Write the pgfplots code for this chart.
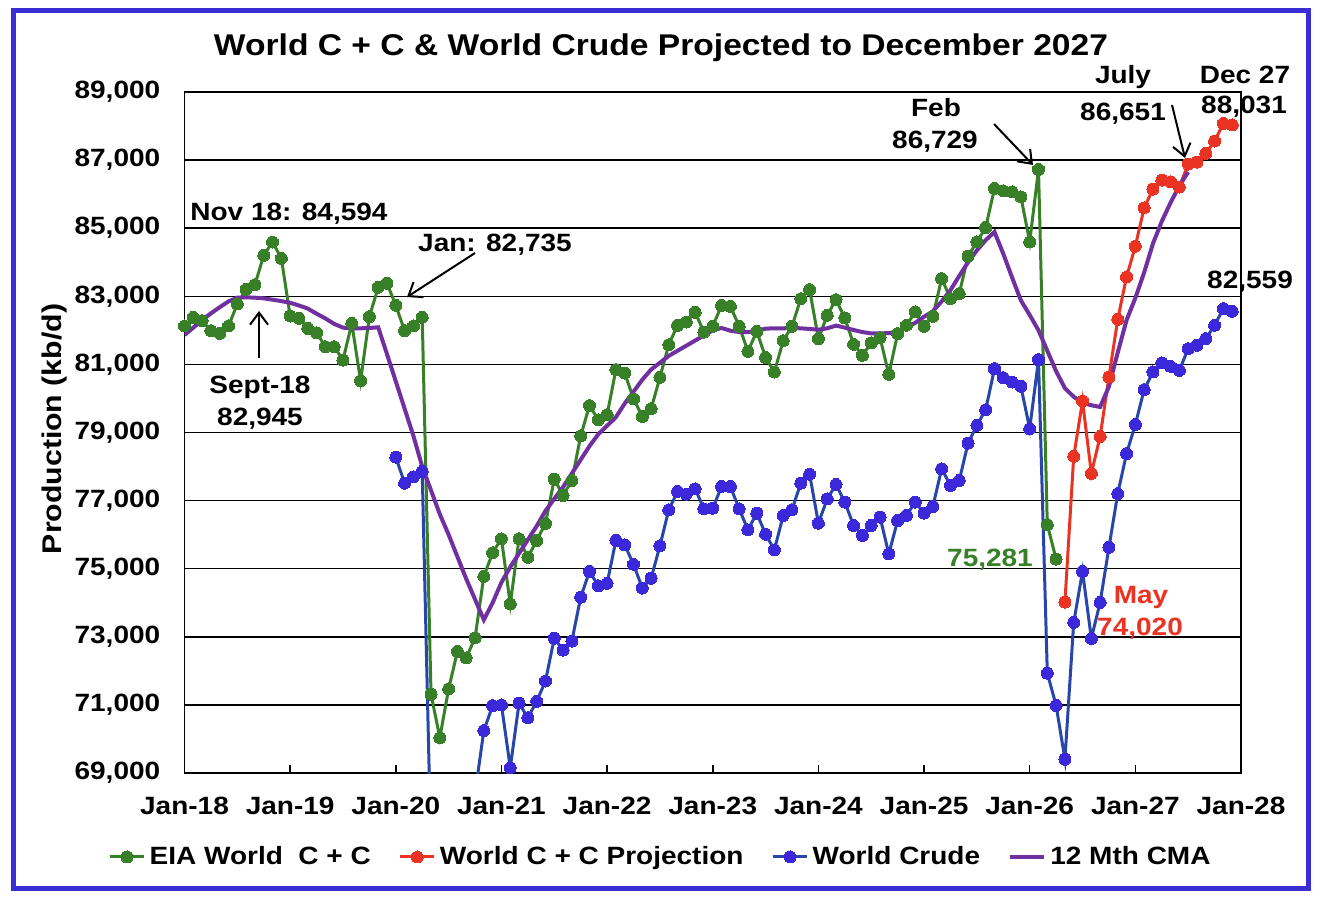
\documentclass[border=0pt]{standalone}
\usepackage{fontspec}
\setmainfont{Liberation Sans}[FakeStretch=1.12]
\usepackage{pgfplots}
\pgfplotsset{compat=1.18}
\usetikzlibrary{arrows.meta}
\definecolor{cgreen}{RGB}{56,128,40}
\definecolor{cred}{RGB}{234,51,35}
\definecolor{cblueline}{RGB}{40,70,170}
\definecolor{cbluemark}{RGB}{58,40,218}
\definecolor{cpurple}{RGB}{112,48,160}
\definecolor{cframe}{RGB}{59,45,212}
\newcommand{\fsz}[1]{\fontsize{#1}{1.2\dimexpr#1\relax}\selectfont\bfseries}
\begin{document}
\begin{tikzpicture}
\useasboundingbox (0,0) rectangle (661pt,451pt);
\fill[white] (0,0) rectangle (661pt,451pt);
\begin{axis}[
  at={(92.25pt,64.5pt)}, anchor=south west,
  scale only axis, width=528.25pt, height=340.5pt,
  xmin=0, xmax=120, ymin=69000, ymax=89000,
  scaled y ticks=false, scaled x ticks=false,
  xtick={0,12,...,120},
  xticklabels={Jan-18,Jan-19,Jan-20,Jan-21,Jan-22,Jan-23,Jan-24,Jan-25,Jan-26,Jan-27,Jan-28},
  ytick={69000,71000,...,89000},
  yticklabels={{69,000},{71,000},{73,000},{75,000},{77,000},{79,000},{81,000},{83,000},{85,000},{87,000},{89,000}},
  ymajorgrids, grid style={black, line width=0.75pt},
  axis line style={black, line width=0.75pt},
  xtick pos=bottom, ytick pos=left,
  tick align=inside, major tick length=4pt,
  xtick style={black, line width=0.75pt},
  ytick style={draw=none},
  xticklabel style={font=\fsz{12.5pt}, yshift=-8.5pt},
  yticklabel style={font=\fsz{12.5pt}, xshift=-8.6pt},
  legend columns=4,
  legend style={at={(0.4515,-0.1233)}, anchor=center, draw=none, fill=none,
    font=\fsz{12.5pt},
    /tikz/every even column/.append style={column sep=12pt}},
]
% EIA World C + C
\addplot[color=cgreen, line width=1.5pt, mark=*, mark size=3pt, mark options={fill=cgreen, draw=cgreen, line width=0pt}] coordinates {
(0,82128)(1,82383)(2,82285)(3,81990)(4,81912)(5,82128)(6,82774)(7,83205)(8,83340)(9,84204)
(10,84594)(11,84116)(12,82421)(13,82352)(14,82058)(15,81930)(16,81520)(17,81520)(18,81129)(19,82205)
(20,80521)(21,82401)(22,83264)(23,83382)(24,82735)(25,81990)(26,82128)(27,82383)(28,71314)(29,70036)
(30,71471)(31,72571)(32,72383)(33,72970)(34,74774)(35,75471)(36,75880)(37,73963)(38,75880)(39,75335)
(40,75828)(41,76330)(42,77630)(43,77150)(44,77590)(45,78900)(46,79790)(47,79374)(48,79521)(49,80844)
(50,80746)(51,79991)(52,79472)(53,79697)(54,80619)(55,81579)(56,82147)(57,82245)(58,82530)(59,81951)
(60,82118)(61,82735)(62,82706)(63,82118)(64,81383)(65,81971)(66,81207)(67,80775)(68,81697)(69,82118)
(70,82931)(71,83196)(72,81755)(73,82441)(74,82902)(75,82363)(76,81590)(77,81267)(78,81630)(79,81786)
(80,80708)(81,81904)(82,82149)(83,82541)(84,82120)(85,82414)(86,83521)(87,82933)(88,83080)(89,84178)
(90,84599)(91,85020)(92,86167)(93,86098)(94,86069)(95,85922)(96,84599)(97,86729)(98,76294)(99,75281)
};
\addlegendentry{EIA World\ \ C + C}
% Projection
\addplot[color=cred, line width=1.5pt, mark=*, mark size=3pt, mark options={fill=cred, draw=cred, line width=0pt}] coordinates {
(100,74020)(101,78300)(102,79924)(103,77800)(104,78886)(105,80630)(106,82325)(107,83570)(108,84472)(109,85600)
(110,86150)(111,86412)(112,86363)(113,86210)(114,86884)(115,86940)(116,87198)(117,87560)(118,88080)(119,88031)
};
\addlegendentry{World C + C Projection}
% World Crude
\addplot[color=cblueline, line width=1.5pt, mark=*, mark size=3pt, mark options={fill=cbluemark, draw=cbluemark, line width=0pt}] coordinates {
(24,78277)(25,77512)(26,77700)(27,77857)(28,66700)(29,65400)(30,66900)(31,68000)(32,67800)(33,68400)
(34,70246)(35,70979)(36,71000)(37,69157)(38,71052)(39,70623)(40,71105)(41,71700)(42,72958)(43,72612)
(44,72874)(45,74163)(46,74920)(47,74500)(48,74570)(49,75833)(50,75699)(51,75130)(52,74430)(53,74720)
(54,75670)(55,76728)(56,77267)(57,77189)(58,77345)(59,76757)(60,76777)(61,77414)(62,77414)(63,76757)
(64,76140)(65,76630)(66,76013)(67,75552)(68,76561)(69,76728)(70,77512)(71,77777)(72,76336)(73,77051)
(74,77474)(75,76955)(76,76269)(77,75975)(78,76269)(79,76514)(80,75436)(81,76416)(82,76563)(83,76955)
(84,76632)(85,76828)(86,77935)(87,77445)(88,77592)(89,78690)(90,79209)(91,79670)(92,80875)(93,80610)
(94,80483)(95,80356)(96,79111)(97,81140)(98,71933)(99,70983)(100,69405)(101,73423)(102,74922)(103,72953)
(104,74011)(105,75628)(106,77206)(107,78382)(108,79238)(109,80258)(110,80777)(111,81042)(112,80944)(113,80826)
(114,81463)(115,81561)(116,81757)(117,82149)(118,82639)(119,82559)
};
\addlegendentry{World Crude}
% 12 Mth CMA
\addplot[color=cpurple, line width=2pt, no marks] coordinates {
(0,81863)(1,82080)(2,82300)(3,82500)(4,82680)(5,82850)(6,82960)(7,82970)(8,82960)(9,82940)
(10,82900)(11,82860)(12,82810)(13,82730)(14,82640)(15,82490)(16,82350)(17,82190)(18,82080)(19,82060)
(20,82060)(21,82070)(22,82090)(23,81300)(24,80500)(25,79700)(26,78900)(27,78000)(28,77300)(29,76600)
(30,76000)(31,75350)(32,74700)(33,74100)(34,73500)(35,74000)(36,74600)(37,75050)(38,75450)(39,75850)
(40,76250)(41,76700)(42,77050)(43,77400)(44,77800)(45,78200)(46,78600)(47,78950)(48,79200)(49,79450)
(50,79850)(51,80200)(52,80550)(53,80850)(54,81050)(55,81250)(56,81400)(57,81550)(58,81700)(59,81850)
(60,82000)(61,82069)(62,81990)(63,81950)(64,81950)(65,81980)(66,82050)(67,82060)(68,82060)(69,82070)
(70,82060)(71,82040)(72,82020)(73,82060)(74,82140)(75,82080)(76,82010)(77,81950)(78,81910)(79,81910)
(80,81920)(81,81960)(82,82080)(83,82220)(84,82400)(85,82560)(86,82850)(87,83180)(88,83600)(89,84000)
(90,84350)(91,84650)(92,84890)(93,84250)(94,83550)(95,82880)(96,82450)(97,82000)(98,81400)(99,80800)
(100,80300)(101,80050)(102,79870)(103,79800)(104,79750)(105,80350)(106,81350)(107,82300)(108,82950)(109,83700)
(110,84550)(111,85200)(112,85750)(113,86250)(114,86651)
};
\addlegendentry{12 Mth CMA}
\end{axis}
\begin{scope}[x=0.5pt, y=-0.5pt, shift={(0pt,451pt)}]
  \draw[cframe, line width=2.75pt] (13.5,10.5) rectangle (1308.5,888.5);
  \node[anchor=base, font=\fsz{15pt}, inner sep=0pt] at (661,56) {World C + C \& World Crude Projected to December 2027};
  \node[rotate=90, font=\fsz{13.5pt}, inner sep=0pt] at (55,429) {Production (kb/d)};
  \begin{scope}[every node/.style={font=\fsz{12.5pt}, inner sep=0pt, anchor=base}]
    \node[anchor=base west] at (190,220) {Nov 18: 84,594};
    \node at (495,251) {Jan: 82,735};
    \node at (260,393) {Sept-18};
    \node at (260,425) {82,945};
    \node at (936,117) {Feb};
    \node at (935,148) {86,729};
    \node at (1123,84) {July};
    \node at (1123,120) {86,651};
    \node at (1245,83) {Dec 27};
    \node at (1244,114) {88,031};
    \node at (1250,288) {82,559};
    \node[text=cgreen] at (990,566) {75,281};
    \node[text=cred] at (1141,603) {May};
    \node[text=cred] at (1140,635) {74,020};
  \end{scope}
  \begin{scope}[black, line width=1pt, -{Straight Barb[length=6pt,width=9pt]}]
    \draw (475,253) -- (407,297);
    \draw (259,358) -- (259,311);
    \draw (994,124) -- (1033,165);
    \draw (1172,105) -- (1185,158);
  \end{scope}
\end{scope}
\end{tikzpicture}
\end{document}
